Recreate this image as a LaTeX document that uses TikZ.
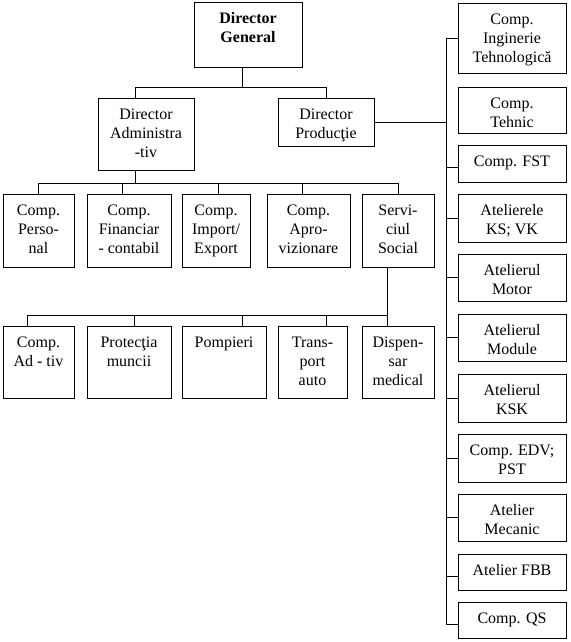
\documentclass[tikz,border=0pt]{standalone}
\usepackage{fontspec}
\setmainfont{Liberation Serif}
\usetikzlibrary{calc}
\newcommand\fsz{\fontsize{16}{19}\selectfont}
\tikzset{
  orgbox/.style={draw, line width=0.8pt, inner sep=0pt, outer sep=0pt, anchor=north west},
  orgtxt/.style={anchor=north, inner sep=0pt, align=center, font=\fsz},
  conn/.style={line width=0.8pt}
}
% name, x1, y1, x2, y2, text
\newcommand\orgbx[6]{%
  \node[orgbox, minimum width={#4-#2}, minimum height={#5-#3}] (#1) at (#2,#3) {};
  \node[orgtxt] (#1t) at ([yshift=-8pt]#1.north) {\strut #6};
}
\begin{document}
\begin{tikzpicture}[x=1pt, y=-1pt]
\fill[white] (0,0) rectangle (570,642);
\useasboundingbox (0,0) rectangle (570,642);

% top
\orgbx{DG}{194}{2}{302}{67}{\textbf{Director}\\\textbf{General}}
\orgbx{DA}{98}{98}{194}{170}{Director\\Administra\\-tiv}
\orgbx{DP}{278}{98}{374}{146}{Director\\Producţie}

% row 1
\orgbx{A1}{3}{194}{74}{267}{Comp.\\Perso-\\nal}
\orgbx{A2}{87}{194}{171}{267}{Comp.\\Financiar\\- contabil}
\orgbx{A3}{182}{194}{250}{267}{Comp.\\Import/\\Export}
\orgbx{A4}{267}{194}{350}{267}{Comp.\\Apro-\\vizionare}
\orgbx{A5}{362}{194}{434}{267}{Servi-\\ciul\\Social}

% row 2
\orgbx{B1}{3}{326}{74}{398}{Comp.\\Ad - tiv}
\orgbx{B2}{87}{326}{171}{398}{Protecţia\\muncii}
\orgbx{B3}{182}{326}{266}{398}{Pompieri}
\orgbx{B4}{278}{326}{347}{398}{Trans-\\port\\auto}
\orgbx{B5}{362}{326}{434}{398}{Dispen-\\sar\\medical}

% right column
\orgbx{R1}{458}{3}{566}{73}{Comp.\\Inginerie\\Tehnologică}
\orgbx{R2}{458}{87}{566}{133}{Comp.\\Tehnic}
\orgbx{R3}{458}{145}{566}{182}{Comp. FST}
\orgbx{R4}{458}{194}{566}{242}{Atelierele\\KS; VK}
\orgbx{R5}{458}{254}{566}{301}{Atelierul\\Motor}
\orgbx{R6}{458}{314}{566}{361}{Atelierul\\Module}
\orgbx{R7}{458}{374}{566}{422}{Atelierul\\KSK}
\orgbx{R8}{458}{434}{566}{482}{Comp. EDV;\\PST}
\orgbx{R9}{458}{494}{566}{541}{Atelier\\Mecanic}
\orgbx{R10}{458}{554}{566}{590}{Atelier FBB}
\orgbx{R11}{458}{602}{566}{638}{Comp. QS}

% bus coordinates
\coordinate (busTop) at (0,87);
\coordinate (busA) at (0,183);
\coordinate (busB) at (0,315);
\coordinate (spine) at (446,0);

% DG -> DA, DP
\draw[conn] ([xshift=-6pt]DG.south) -- ([xshift=-6pt]DG.south |- busTop);
\draw[conn] ([xshift=-11pt]DA.north) -- ([xshift=-11pt]DA.north |- busTop) -- (DP.north |- busTop) -- (DP.north);

% DA -> row 1
\draw[conn] ([xshift=-11pt]DA.south) -- ([xshift=-11pt]DA.south |- busA);
\draw[conn] (A1.north) -- (A1.north |- busA) -- (A5.north |- busA) -- (A5.north);
\draw[conn] ([xshift=-7pt]A2.north) -- ([xshift=-7pt]A2.north |- busA);
\draw[conn] ([xshift=2pt]A3.north) -- ([xshift=2pt]A3.north |- busA);
\draw[conn] ([xshift=-6.5pt]A4.north) -- ([xshift=-6.5pt]A4.north |- busA);

% Serviciul Social -> row 2
\draw[conn] ([xshift=-11pt]A5.south) -- ([xshift=-11pt]B5.north);
\draw[conn] ([xshift=-11.5pt]B1.north) -- ([xshift=-11.5pt]B1.north |- busB) -- ([xshift=-11pt]B5.north |- busB);
\draw[conn] ([xshift=5pt]B2.north) -- ([xshift=5pt]B2.north |- busB);
\draw[conn] ([xshift=18pt]B3.north) -- ([xshift=18pt]B3.north |- busB);
\draw[conn] ([xshift=13.5pt]B4.north) -- ([xshift=13.5pt]B4.north |- busB);

% DP -> spine
\draw[conn] (DP.east) -- (DP.east -| spine);
\draw[conn] (R1.west -| spine) -- ([yshift=-4pt]R11.west -| spine);
\foreach \r in {R1,R4,R5,R6,R7,R8,R9}
  \draw[conn] (\r.west) -- (\r.west -| spine);
\foreach \r in {R3,R10,R11}
  \draw[conn] ([yshift=-4pt]\r.west) -- ([yshift=-4pt]\r.west -| spine);
\end{tikzpicture}
\end{document}
